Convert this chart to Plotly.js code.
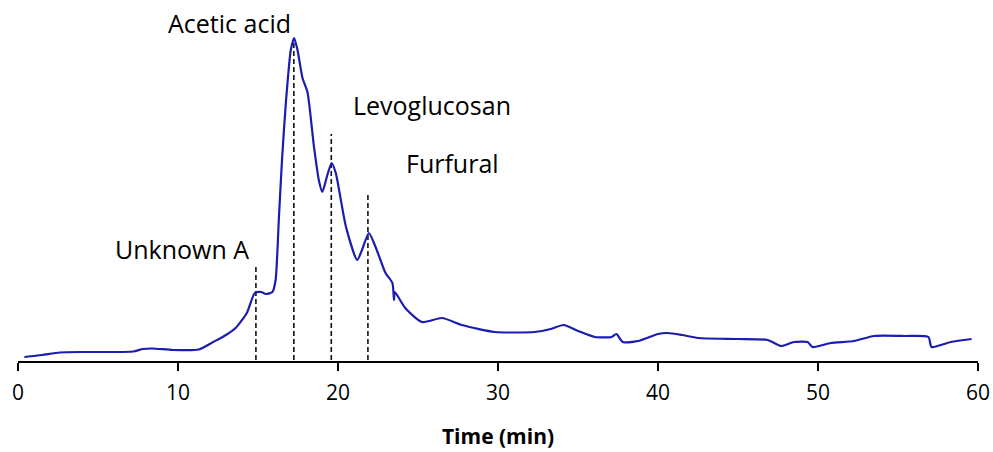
<!DOCTYPE html>
<html>
<head>
<meta charset="utf-8">
<script src="https://cdn.plot.ly/plotly-3.0.1.min.js"></script>
<style>html,body{margin:0;padding:0;background:#fff;}#chart{width:993px;height:452px;}</style>
</head>
<body>
<div id="chart"></div>
<script>
// Chromatogram (time in min, detector signal in arbitrary units)
var timeMin = [0.4, 1.5, 2.6, 4, 5.5, 7.2, 7.8, 8.4, 9.7, 11.3, 12.2, 13.0, 13.6, 14.3, 14.8, 15.2, 15.5, 15.9, 16.1, 16.3, 16.5, 16.74, 17.05, 17.26, 17.47, 17.78, 18.09, 18.5, 18.8, 19.02, 19.3, 19.6, 19.86, 20.5, 21.2, 21.5, 21.93, 22.35, 22.97, 23.4, 23.5, 23.55, 24.2, 25.25, 26.5, 27.75, 29.8, 32.3, 33.3, 34.1, 35.0, 36.05, 37.1, 37.4, 37.8, 38.75, 40.0, 40.6, 41.5, 42.5, 45.0, 46.85, 47.7, 48.5, 49.35, 49.65, 50.8, 52.25, 53.5, 55.4, 56.9, 57.1, 58.3, 59.6];
var signal = [3, 5, 7.5, 8, 8, 8.5, 11, 11.5, 10, 10.5, 18, 25, 32, 47, 67, 68, 66, 68, 80, 140, 200, 257, 310, 322, 310, 282, 268, 213, 180, 168, 183, 197, 187, 133, 100, 110, 127, 113, 87, 77, 60, 68, 52, 38, 42, 35, 28, 28, 31, 35, 29, 23, 23, 26, 18, 19, 26, 27, 25, 22, 21, 20, 14, 18, 18, 13, 17, 19, 24, 24, 23, 13, 18, 21];

// Identified peaks
var peakNames = ["Unknown A", "Acetic acid", "Levoglucosan", "Furfural"];
var peakTimes = [14.87, 17.24, 19.58, 21.87];
var markerTops = [93, 322, 226, 167];

// Label placement (layout only)
var labelX = [10.25, 13.2, 25.85, 27.15];
var labelY = [111, 337, 255, 197];

var yMin = -1, yMax = 325;

var traces = [];
for (var i = 0; i < peakTimes.length; i++) {
  traces.push({
    x: [peakTimes[i], peakTimes[i]],
    y: [0, markerTops[i]],
    mode: 'lines',
    line: {color: '#111', width: 1.6, dash: '5px,3px'},
    hoverinfo: 'skip',
    showlegend: false
  });
}
traces.push({
  x: timeMin,
  y: signal,
  mode: 'lines',
  line: {color: '#1c1cae', width: 2.2, shape: 'spline', smoothing: 0.6},
  showlegend: false
});

var annotations = peakNames.map(function (n, i) {
  return {
    x: labelX[i], y: (labelY[i] - yMin) / (yMax - yMin), xref: 'x', yref: 'paper',
    text: n, showarrow: false, xanchor: 'center', yanchor: 'middle',
    font: {family: 'Open Sans, sans-serif', size: 25, color: '#000'}
  };
});

var layout = {
  width: 993, height: 452,
  margin: {l: 18, r: 15, t: 35, b: 91},
  paper_bgcolor: '#fff', plot_bgcolor: '#fff',
  showlegend: false,
  xaxis: {
    range: [0, 60], tickvals: [0, 10, 20, 30, 40, 50, 60],
    ticks: 'outside', ticklen: 8, tickwidth: 2, tickcolor: '#000',
    ticklabelstandoff: 4,
    showline: true, linecolor: '#000', linewidth: 2,
    showgrid: false, zeroline: false,
    tickfont: {family: 'Open Sans, sans-serif', size: 21, color: '#000'},
    title: {text: '<b>Time (min)</b>', font: {family: 'Open Sans, sans-serif', size: 21, color: '#000'}, standoff: 24}
  },
  yaxis: {
    range: [yMin, yMax], visible: false, showgrid: false, zeroline: false
  },
  annotations: annotations
};

Plotly.newPlot('chart', traces, layout, {displayModeBar: false, staticPlot: true});
</script>
</body>
</html>
